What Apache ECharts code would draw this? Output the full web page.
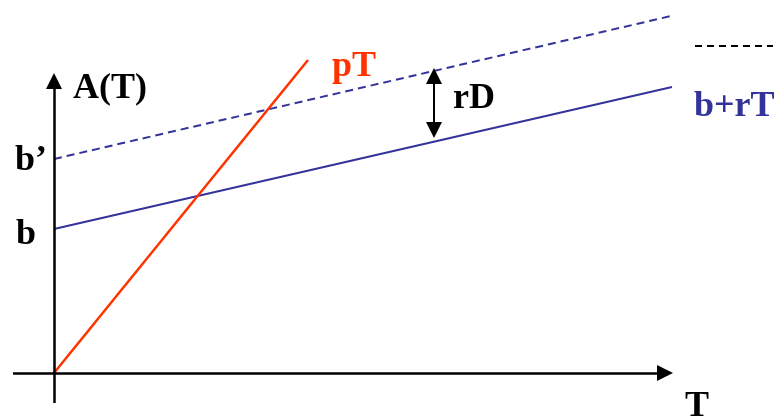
<!DOCTYPE html>
<html>
<head>
<meta charset="utf-8">
<script src="https://cdn.jsdelivr.net/npm/echarts@6/dist/echarts.min.js"></script>
<style>
  html, body { margin: 0; padding: 0; background: #fff; }
  #chart { width: 778px; height: 417px; }
</style>
</head>
<body>
<div id="chart"></div>
<script>
// line end points, [T, A]
const pT = [[0, 0], [25.4, 31.3]];
const bPlusRT = [[0, 14.4], [61.8, 28.6]];
const bPrime = [[0, 21.4], [61.7, 35.7]];
const legendDash = [[64.1, 32.7], [71.9, 32.7]];
const rDArrow = [[38.0, 24.3], [38.0, 29.7]];
const tAxisLine = [[-4.1, 0], [61.1, 0]];
const aAxisLine = [[0, -3.0], [0, 29.2]];

const axisTitles = ["A(T)", "T"];
const lineLabels = ["pT", "rD", "b+rT"];
const interceptLabels = ["b\u2019", "b"];

const RED = "#ff3300";
const BLUE = "#333399";

const el = document.getElementById("chart");
const chart = echarts.init(el, null, { renderer: "canvas" });

const hidden = {
  axisLine: { show: false },
  axisTick: { show: false },
  axisLabel: { show: false },
  splitLine: { show: false },
};

function txt(text, x, y, color) {
  return {
    type: "text",
    x: x,
    y: y,
    style: {
      text: text,
      fontFamily: "Liberation Serif",
      fontWeight: "bold",
      fontSize: 36,
      fill: color || "#000",
      verticalAlign: "middle",
    },
  };
}

// black segment with triangle heads, used for both axes and the rD marker
const arrows = (segs, width) => ({
  symbolSize: [16, 16],
  silent: true,
  animation: false,
  label: { show: false },
  lineStyle: { color: "#000", width: width, type: "solid" },
  data: segs.map(([from, to, heads]) => [
    { coord: from, symbol: heads[0], symbolSize: [16, 16] },
    { coord: to, symbol: heads[1], symbolSize: [16, 16] },
  ]),
});

chart.setOption({
  animation: false,
  grid: { left: 13, right: 0, top: 0, bottom: 14, containLabel: false },
  xAxis: { type: "value", min: -4.1, max: 72.4, ...hidden },
  yAxis: { type: "value", min: -3.0, max: 37.3, ...hidden },
  series: [
    {
      type: "line",
      data: bPrime,
      symbol: "none",
      lineStyle: { color: BLUE, width: 2, type: [8, 5] },
    },
    {
      type: "line",
      data: bPlusRT,
      symbol: "none",
      lineStyle: { color: BLUE, width: 2 },
      markLine: arrows([[rDArrow[0], rDArrow[1], ["triangle", "triangle"]]], 2),
    },
    {
      type: "line",
      data: legendDash,
      symbol: "none",
      lineStyle: { color: "#000", width: 2, type: [7, 5] },
      markLine: arrows([
        [tAxisLine[0], tAxisLine[1], ["none", "triangle"]],
        [aAxisLine[0], aAxisLine[1], ["none", "triangle"]],
      ], 2.5),
    },
    {
      type: "line",
      data: pT,
      symbol: "none",
      lineStyle: { color: RED, width: 2.5 },
    },
  ],
  graphic: [
    txt(axisTitles[0], 73, 89),
    txt(axisTitles[1], 685, 407),
    txt(lineLabels[0], 332, 67, RED),
    txt(lineLabels[1], 453, 99),
    txt(lineLabels[2], 694, 107, BLUE),
    txt(interceptLabels[0], 15, 161),
    txt(interceptLabels[1], 16, 235),
  ],
});
</script>
</body>
</html>
